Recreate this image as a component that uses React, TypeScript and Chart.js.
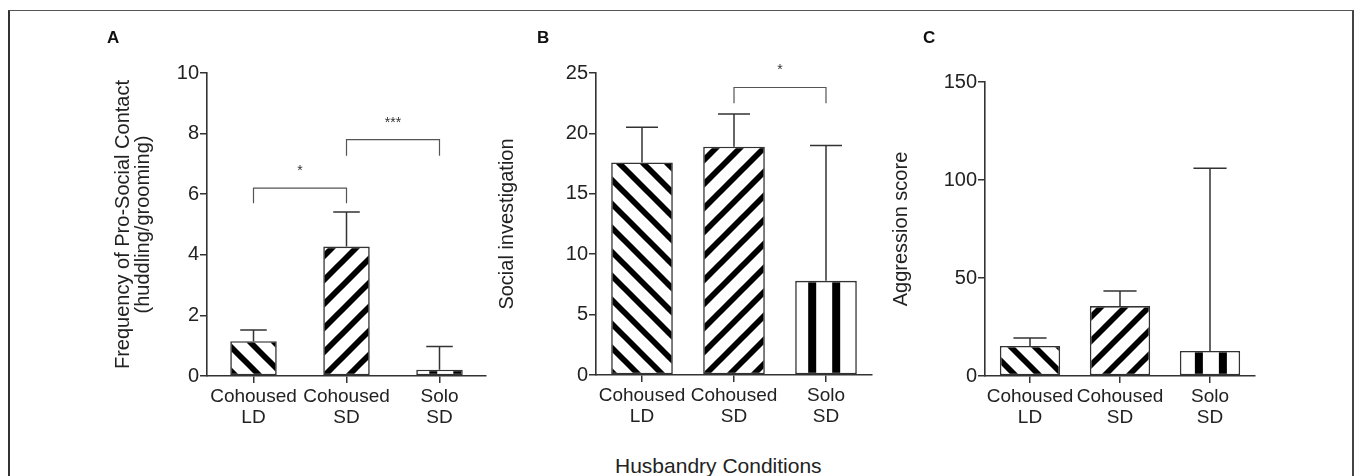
import React, { useEffect, useRef } from "react";
import { Chart, registerables } from "chart.js";

Chart.register(...registerables);

// ---------- data ----------
const categories: string[][] = [
  ["Cohoused", "LD"],
  ["Cohoused", "SD"],
  ["Solo", "SD"],
];

const contactMeans = [1.15, 4.27, 0.21];
const contactSem = [0.37, 1.14, 0.76];
const contactTicks = { min: 0, max: 10, step: 2 };
const contactTitle = ["Frequency of Pro-Social Contact", "(huddling/grooming)"];
const contactBrackets = [
  { from: 0, to: 1, y: 6.2, leg: 0.5, label: "*" },
  { from: 1, to: 2, y: 7.8, leg: 0.53, label: "***" },
];

const investigationMeans = [17.6, 18.9, 7.8];
const investigationSem = [2.9, 2.7, 11.2];
const investigationTicks = { min: 0, max: 25, step: 5 };
const investigationTitle = "Social investigation";
const investigationBrackets = [{ from: 1, to: 2, y: 23.8, leg: 1.3, label: "*" }];

const aggressionMeans = [15.3, 35.7, 12.8];
const aggressionSem = [4.1, 7.7, 93.2];
const aggressionTicks = { min: 0, max: 150, step: 50 };
const aggressionTitle = "Aggression score";
const aggressionBrackets: { from: number; to: number; y: number; leg: number; label: string }[] = [];

const panelLetters = ["A", "B", "C"];
const sharedXTitle = "Husbandry Conditions";

// ---------- helpers ----------
const FONT = "'Liberation Sans', Arial, Helvetica, sans-serif";
const INK = "#222";
const LINE = "#333";

function diagPattern(ctx: CanvasRenderingContext2D, dir: 1 | -1) {
  const p = 24;
  const c = document.createElement("canvas");
  c.width = p;
  c.height = p;
  const g = c.getContext("2d")!;
  g.fillStyle = "#fff";
  g.fillRect(0, 0, p, p);
  g.strokeStyle = "#000";
  g.lineWidth = 5.8;
  for (let k = -2; k <= 2; k++) {
    g.beginPath();
    if (dir === 1) {
      g.moveTo(k * p - p, -p);
      g.lineTo(k * p + 2 * p, 2 * p);
    } else {
      g.moveTo(k * p - p, 2 * p);
      g.lineTo(k * p + 2 * p, -p);
    }
    g.stroke();
  }
  return ctx.createPattern(c, "repeat")!;
}

function vertPattern(ctx: CanvasRenderingContext2D) {
  const c = document.createElement("canvas");
  c.width = 24;
  c.height = 4;
  const g = c.getContext("2d")!;
  g.fillStyle = "#fff";
  g.fillRect(0, 0, 24, 4);
  g.fillStyle = "#000";
  g.fillRect(0, 0, 8, 4);
  return ctx.createPattern(c, "repeat")!;
}

type PanelCfg = {
  means: number[];
  sems: number[];
  ticks: { min: number; max: number; step: number };
  title: string | string[];
  titlePad: number;
  brackets: { from: number; to: number; y: number; leg: number; label: string }[];
  yWidth: number;
  padding: { top: number; right: number; bottom: number; left: number };
  barFrac: number;
  capFrac: number;
  stripeOffset: number;
};

function Panel(props: { cfg: PanelCfg; left: number; width: number; height: number }) {
  const ref = useRef<HTMLCanvasElement | null>(null);
  const { cfg } = props;
  useEffect(() => {
    const canvas = ref.current!;
    const ctx = canvas.getContext("2d")!;
    const patLD = diagPattern(ctx, 1);
    const patSD = diagPattern(ctx, -1);
    const patSolo = vertPattern(ctx);

    const overlay = {
      id: "overlay",
      beforeDatasetsDraw(chart: any) {
        const meta = chart.getDatasetMeta(0);
        const bar = meta.data[2];
        if (bar && (patSolo as any).setTransform) {
          const left = bar.x - bar.width / 2 + cfg.stripeOffset;
          patSolo.setTransform(new DOMMatrix([1, 0, 0, 1, left, 0]));
        }
      },
      afterDatasetsDraw(chart: any) {
        const c = chart.ctx as CanvasRenderingContext2D;
        const y = chart.scales.y;
        const meta = chart.getDatasetMeta(0);
        c.save();
        c.strokeStyle = LINE;
        c.lineWidth = 1.5;
        meta.data.forEach((bar: any, i: number) => {
          const top = y.getPixelForValue(cfg.means[i]);
          const e = y.getPixelForValue(cfg.means[i] + cfg.sems[i]);
          const cap = (bar.width * cfg.capFrac) / 2;
          c.beginPath();
          c.moveTo(bar.x, top);
          c.lineTo(bar.x, e);
          c.moveTo(bar.x - cap, e);
          c.lineTo(bar.x + cap, e);
          c.stroke();
        });
        c.strokeStyle = "#555";
        c.lineWidth = 1.2;
        c.fillStyle = "#333";
        c.font = `14px ${FONT}`;
        c.textAlign = "center";
        c.textBaseline = "alphabetic";
        cfg.brackets.forEach((b) => {
          const x1 = meta.data[b.from].x;
          const x2 = meta.data[b.to].x;
          const yb = y.getPixelForValue(b.y);
          const yl = y.getPixelForValue(b.y - b.leg);
          c.beginPath();
          c.moveTo(x1, yl);
          c.lineTo(x1, yb);
          c.lineTo(x2, yb);
          c.lineTo(x2, yl);
          c.stroke();
          c.fillText(b.label, (x1 + x2) / 2, yb - 13);
        });
        c.restore();
      },
    };

    const chart = new Chart(canvas, {
      type: "bar",
      data: {
        labels: categories,
        datasets: [
          {
            data: cfg.means,
            backgroundColor: [patLD, patSD, patSolo] as any,
            borderColor: LINE,
            borderWidth: 1.6,
            borderSkipped: false,
            barPercentage: cfg.barFrac,
            categoryPercentage: 1,
          },
        ],
      },
      options: {
        animation: false,
        responsive: false,
        devicePixelRatio: window.devicePixelRatio || 1,
        layout: { padding: cfg.padding },
        plugins: { legend: { display: false }, tooltip: { enabled: false } },
        events: [],
        scales: {
          x: {
            offset: true,
            grid: {
              display: true,
              drawOnChartArea: false,
              drawTicks: true,
              tickLength: 7,
              offset: false,
              color: LINE,
              lineWidth: 1.5,
            },
            border: { display: true, color: LINE, width: 1.6 },
            ticks: {
              color: INK,
              font: { family: FONT, size: 19, lineHeight: 21 / 19 },
              padding: 3,
              maxRotation: 0,
              autoSkip: false,
            },
            afterFit(s: any) {
              s.height = 60;
            },
          },
          y: {
            min: cfg.ticks.min,
            max: cfg.ticks.max,
            grid: {
              display: true,
              drawOnChartArea: false,
              drawTicks: true,
              tickLength: 7,
              color: LINE,
              lineWidth: 1.5,
            },
            border: { display: true, color: LINE, width: 1.6 },
            ticks: {
              stepSize: cfg.ticks.step,
              color: INK,
              font: { family: FONT, size: 20 },
              padding: 1,
            },
            title: {
              display: true,
              text: cfg.title,
              color: INK,
              font: { family: FONT, size: 20, lineHeight: 1 },
              padding: { top: cfg.titlePad, bottom: 0 },
            },
            afterFit(s: any) {
              s.width = cfg.yWidth;
            },
          },
        },
      },
      plugins: [overlay],
    });
    return () => chart.destroy();
  }, []);
  return (
    <canvas
      ref={ref}
      width={props.width}
      height={props.height}
      style={{ position: "absolute", left: props.left, top: 0, width: props.width, height: props.height }}
    />
  );
}

const cfgA: PanelCfg = {
  means: contactMeans,
  sems: contactSem,
  ticks: contactTicks,
  title: contactTitle,
  titlePad: 13,
  brackets: contactBrackets,
  yWidth: 107,
  padding: { top: 73, right: 14, bottom: 4, left: 0 },
  barFrac: 0.5,
  capFrac: 0.57,
  stripeOffset: 13,
};

const cfgB: PanelCfg = {
  means: investigationMeans,
  sems: investigationSem,
  ticks: investigationTicks,
  title: investigationTitle,
  titlePad: 17,
  brackets: investigationBrackets,
  yWidth: 116,
  padding: { top: 73, right: 8, bottom: 5, left: 0 },
  barFrac: 0.67,
  capFrac: 0.52,
  stripeOffset: 13,
};

const cfgC: PanelCfg = {
  means: aggressionMeans,
  sems: aggressionSem,
  ticks: aggressionTicks,
  title: aggressionTitle,
  titlePad: 11,
  brackets: aggressionBrackets,
  yWidth: 105,
  padding: { top: 82, right: 100, bottom: 4, left: 0 },
  barFrac: 0.67,
  capFrac: 0.55,
  stripeOffset: 15,
};

export default function App() {
  const letterStyle: React.CSSProperties = {
    position: "absolute",
    top: 29,
    fontFamily: FONT,
    fontWeight: "bold",
    fontSize: 17,
    lineHeight: 1,
    color: "#111",
  };
  return (
    <div
      style={{
        position: "absolute",
        left: 0,
        top: 0,
        width: 1355,
        height: 476,
        overflow: "hidden",
        background: "#fff",
      }}
    >
      <div
        style={{
          position: "absolute",
          left: 8,
          top: 10,
          width: 1346,
          height: 520,
          borderLeft: "2px solid #333",
          borderTop: "1.5px solid #555",
          borderRight: "2px solid #444",
          boxSizing: "border-box",
        }}
      />
      <Panel cfg={cfgA} left={100} width={400} height={440} />
      <Panel cfg={cfgB} left={480} width={400} height={440} />
      <Panel cfg={cfgC} left={880} width={475} height={440} />
      <div style={{ ...letterStyle, left: 107 }}>{panelLetters[0]}</div>
      <div style={{ ...letterStyle, left: 537 }}>{panelLetters[1]}</div>
      <div style={{ ...letterStyle, left: 923 }}>{panelLetters[2]}</div>
      <div
        style={{
          position: "absolute",
          left: 615,
          top: 455,
          fontFamily: FONT,
          fontSize: 21,
          lineHeight: 1,
          color: INK,
          whiteSpace: "nowrap",
        }}
      >
        {sharedXTitle}
      </div>
    </div>
  );
}
